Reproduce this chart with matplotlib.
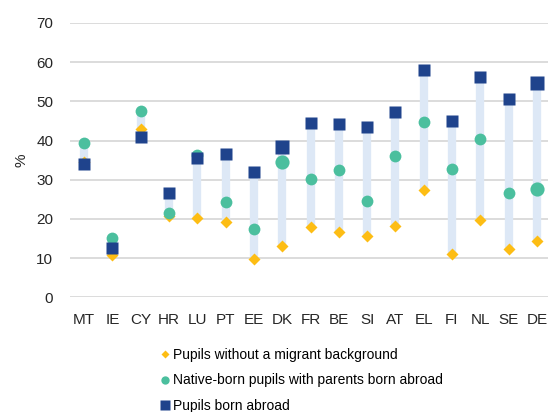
import matplotlib.pyplot as plt
import numpy as np

plt.rcParams['font.family'] = ['Liberation Sans', 'DejaVu Sans']

countries = ['MT', 'IE', 'CY', 'HR', 'LU', 'PT', 'EE', 'DK', 'FR', 'BE',
             'SI', 'AT', 'EL', 'FI', 'NL', 'SE', 'DE']
no_migrant = [34.6, 10.8, 42.9, 20.8, 20.3, 19.1, 9.9, 13.2, 18.0, 16.6,
              15.6, 18.3, 27.3, 11.1, 19.6, 12.3, 14.4]
native_born = [39.5, 15.2, 47.6, 21.4, 36.3, 24.4, 17.5, 34.6, 30.2, 32.5,
               24.7, 36.0, 44.7, 32.8, 40.3, 26.7, 27.6]
born_abroad = [33.9, 12.5, 40.8, 26.5, 35.5, 36.5, 31.9, 38.3, 44.4, 44.1,
               43.4, 47.2, 57.9, 44.9, 56.1, 50.5, 54.7]
big_markers = ['DK', 'DE']

c_diamond = '#fdbd14'
c_circle = '#4bbf9e'
c_square = '#1f438c'

fig = plt.figure(figsize=(5.48, 4.12), dpi=100)
ax = fig.add_axes([70 / 548, 1 - 297.3 / 412, 481 / 548, 274.3 / 412])

x = np.arange(len(countries))
lo = np.minimum(np.minimum(no_migrant, native_born), born_abroad)
hi = np.maximum(np.maximum(no_migrant, native_born), born_abroad)
ax.vlines(x, lo, hi, color='#dde8f6', linewidth=6, zorder=1)

for i, c in enumerate(countries):
    s = 1.2 if c in big_markers else 1.0
    ax.plot(i, no_migrant[i], 'D', color=c_diamond, markersize=6, mec='none', zorder=2)
    ax.plot(i, native_born[i], 'o', color=c_circle, markersize=8.5 * s, mec='none', zorder=3)
    ax.plot(i, born_abroad[i], 's', color=c_square, markersize=8 * s, mec='none', zorder=4)

ax.set_xlim(-0.5, len(countries) - 0.5)
ax.set_ylim(0, 70)
ax.set_yticks(range(0, 71, 10))
ax.set_xticks(x)
ax.set_xticklabels(countries)
ax.yaxis.grid(True, color='#d9d9d9', linewidth=1.3)
ax.set_axisbelow(True)
for sp in ax.spines.values():
    sp.set_visible(False)
ax.tick_params(length=0, labelsize=11, colors='#262626')
ax.tick_params(axis='y', pad=12)
ax.tick_params(axis='x', pad=11)
ax.set_ylabel('%', fontsize=11, color='#262626', labelpad=6)

h1, = ax.plot([], [], 'D', color=c_diamond, markersize=4.5, mec='none')
h2, = ax.plot([], [], 'o', color=c_circle, markersize=6, mec='none')
h3, = ax.plot([], [], 's', color=c_square, markersize=6.5, mec='none')
fig.legend([h1, h2, h3],
           ['Pupils without a migrant background',
            'Native-born pupils with parents born abroad',
            'Pupils born abroad'],
           loc='upper left', bbox_to_anchor=(154 / 548, 1 - 341 / 412),
           frameon=False, fontsize=10, handlelength=0.6, handletextpad=0.3,
           labelspacing=0.83, borderpad=0)

fig.savefig('out.png', dpi=100)
